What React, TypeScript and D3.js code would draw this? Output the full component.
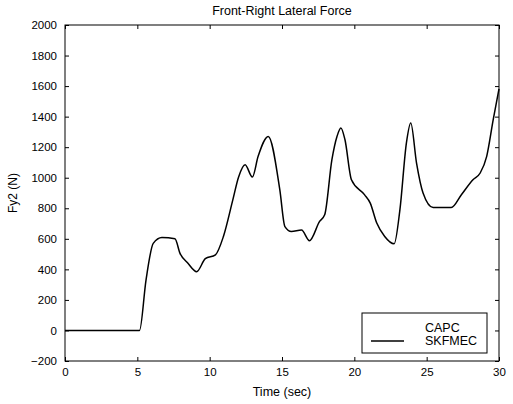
import React, { useRef, useEffect } from 'react';
import * as d3 from 'd3';

// time (sec) and lateral force Fy2 (N)
const times = [0, 5.15, 5.6, 6.1, 6.7, 7.6, 7.95, 8.5, 9.1, 9.7, 10.4, 10.95, 11.6, 12.0, 12.45, 12.95, 13.35, 14.05, 14.85, 15.2, 15.65, 16.35, 16.9, 17.6, 17.95, 18.45, 18.8, 19.07, 19.35, 19.8, 20.7, 21.1, 21.55, 22.1, 22.75, 23.15, 23.6, 23.9, 24.3, 24.75, 25.45, 26.7, 27.4, 28.2, 28.7, 29.15, 29.6, 30];
const skfmec = [0, 0, 330, 570, 608, 600, 505, 440, 385, 470, 495, 615, 855, 1005, 1085, 1005, 1140, 1270, 920, 680, 648, 658, 588, 714, 757, 1118, 1270, 1326, 1250, 987, 889, 834, 703, 615, 567, 790, 1228, 1358, 1096, 900, 805, 805, 889, 987, 1031, 1140, 1380, 1582];

const xTicks = [0, 5, 10, 15, 20, 25, 30];
const yTicks = [-200, 0, 200, 400, 600, 800, 1000, 1200, 1400, 1600, 1800, 2000];
const legendLabels = ['CAPC', 'SKFMEC'];

const App = () => {
  const svgRef = useRef<SVGSVGElement>(null);

  useEffect(() => {
    const width = 513;
    const height = 404;
    const left = 65, right = 499, top = 25, bottom = 361;
    const font = 'Arial, "Liberation Sans", Helvetica, sans-serif';

    const svg = d3.select(svgRef.current)
      .attr('width', width)
      .attr('height', height);
    svg.selectAll('*').remove();

    svg.append('rect').attr('width', width).attr('height', height).attr('fill', '#fff');

    const x = d3.scaleLinear().domain([0, 30]).range([left, right]);
    const y = d3.scaleLinear().domain([-200, 2000]).range([bottom, top]);

    // frame
    svg.append('rect')
      .attr('x', left).attr('y', top)
      .attr('width', right - left).attr('height', bottom - top)
      .attr('fill', 'none').attr('stroke', '#000').attr('stroke-width', 1);

    // axes with inward ticks on all four sides
    const tk = 4;
    const addAxis = (axis: any, transform: string) => {
      const g = svg.append('g').attr('transform', transform).call(axis);
      g.select('.domain').remove();
      g.selectAll('text').attr('font-family', font).attr('font-size', 11.5).attr('fill', '#000');
      g.selectAll('line').attr('stroke', '#000');
      return g;
    };
    addAxis(d3.axisBottom(x).tickValues(xTicks).tickSizeInner(-tk).tickPadding(7).tickFormat(d3.format('d')), `translate(0,${bottom})`);
    addAxis(d3.axisTop(x).tickValues(xTicks).tickSizeInner(-tk).tickFormat(() => ''), `translate(0,${top})`);
    addAxis(d3.axisLeft(y).tickValues(yTicks).tickSizeInner(-tk).tickPadding(8).tickFormat(d3.format('d')), `translate(${left},0)`);
    addAxis(d3.axisRight(y).tickValues(yTicks).tickSizeInner(-tk).tickFormat(() => ''), `translate(${right},0)`);

    // data line
    const pts = times.map((t, i) => [t, skfmec[i]] as [number, number]);
    const line = d3.line<[number, number]>()
      .x(d => x(d[0]))
      .y(d => y(d[1]))
      .curve(d3.curveMonotoneX);
    svg.append('path')
      .datum(pts)
      .attr('d', line)
      .attr('fill', 'none')
      .attr('stroke', '#000')
      .attr('stroke-width', 1.5);

    // title and labels
    svg.append('text').attr('x', (left + right) / 2).attr('y', 15)
      .attr('text-anchor', 'middle').attr('font-family', font).attr('font-size', 12.5)
      .text('Front-Right Lateral Force');
    svg.append('text').attr('x', (left + right) / 2).attr('y', 396)
      .attr('text-anchor', 'middle').attr('font-family', font).attr('font-size', 12.5)
      .text('Time (sec)');
    svg.append('text')
      .attr('transform', `translate(17,${(top + bottom) / 2}) rotate(-90)`)
      .attr('text-anchor', 'middle').attr('font-family', font).attr('font-size', 12)
      .text('Fy2 (N)');

    // legend
    const lg = svg.append('g');
    lg.append('rect').attr('x', 362).attr('y', 313).attr('width', 125).attr('height', 40)
      .attr('fill', '#fff').attr('stroke', '#000').attr('stroke-width', 1);
    legendLabels.forEach((lab, i) => {
      lg.append('text').attr('x', 425).attr('y', 332 + i * 13)
        .attr('font-family', font).attr('font-size', 12.5).text(lab);
    });
    lg.append('line').attr('x1', 371).attr('x2', 404).attr('y1', 341).attr('y2', 341)
      .attr('stroke', '#000').attr('stroke-width', 1.4);
  }, []);

  return <svg ref={svgRef} style={{ position: 'absolute', left: 0, top: 0 }}></svg>;
};

export default App;
